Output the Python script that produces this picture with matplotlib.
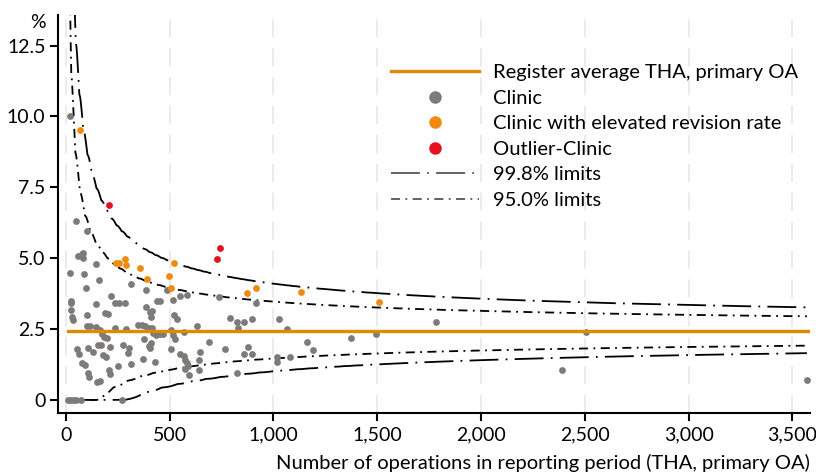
import numpy as np
import matplotlib
matplotlib.use("Agg")
import matplotlib.pyplot as plt
from matplotlib.lines import Line2D
from matplotlib.legend_handler import HandlerLine2D
from matplotlib.ticker import FuncFormatter

plt.rcParams['font.family'] = ['Lato', 'DejaVu Sans']

# Register average revision rate (%)
register_avg = 2.42

# Clinics: number of operations and revision rate (%)
clinic_n = [8, 20, 35, 50, 74, 272,
            18, 48, 100, 58, 76, 82, 82, 146, 19, 85, 159, 313, 387, 95, 485, 215,
            23, 26, 25, 29, 33, 143, 236, 255, 284, 103, 190, 203, 103, 116, 143, 162,
            236, 288, 173, 184, 198, 171, 211, 106, 132, 154, 54, 62, 78, 91, 105, 112,
            149, 162, 178, 192, 251, 207, 211, 275, 302, 297, 315, 370, 431, 378, 400,
            411, 406, 349, 366, 383, 400, 416, 419, 436, 452, 466, 384, 403, 413, 408,
            440, 453, 514, 522, 535, 549, 584, 508, 518, 524, 569, 506, 550, 568, 576,
            584, 575, 590, 593, 632, 646, 643, 640, 689, 736, 765, 792, 824, 830, 856,
            896, 877, 856, 896, 918, 824, 1029, 1063, 1017, 1018, 1081, 1161, 1190,
            1373, 1496, 1782, 2389, 2505, 3570]
clinic_rate = [0, 0, 0, 0, 0, 0,
               10.0, 6.31, 5.97, 5.08, 5.14, 5.2, 5.0, 4.81, 4.48, 4.44, 4.22, 4.1, 3.89, 3.94, 3.88, 3.65,
               3.5, 3.43, 3.16, 2.93, 2.82, 3.37, 3.43, 3.43, 3.41, 2.98, 3.08, 3.02, 2.62, 2.62, 2.56, 2.47,
               2.55, 2.52, 2.34, 2.23, 2.19, 1.94, 1.86, 1.82, 1.68, 1.93, 1.78, 1.63, 1.32, 1.24, 0.96, 0.8,
               0.65, 0.66, 1.57, 1.53, 1.18, 1.06, 0.93, 1.93, 1.83, 1.64, 1.26, 1.44, 1.35, 2.15, 1.89,
               2.0, 1.82, 2.65, 2.65, 2.61, 2.53, 2.55, 2.35, 2.28, 2.32, 2.32, 3.29, 3.09, 3.14, 2.92,
               3.5, 3.5, 3.52, 3.01, 2.85, 3.67, 3.69, 2.46, 2.3, 2.16, 2.4, 1.8, 1.61, 1.56, 1.41,
               1.32, 1.08, 1.2, 0.88, 2.6, 1.68, 1.41, 1.05, 2.03, 3.62, 1.8, 2.88, 2.76, 2.54, 2.76,
               2.86, 1.88, 1.61, 1.61, 3.41, 0.96, 2.86, 2.5, 1.53, 1.35, 1.53, 2.06, 1.76,
               2.2, 2.33, 2.75, 1.05, 2.39, 0.72]

# Clinics with elevated revision rate
elevated_n = [69, 240, 256, 285, 288, 358, 389, 495, 506, 521, 872, 918, 1134, 1509]
elevated_rate = [9.51, 4.84, 4.82, 4.97, 4.77, 4.66, 4.25, 4.38, 3.96, 4.83, 3.79, 3.96, 3.81, 3.45]

# Outlier clinics
outlier_n = [209, 726, 742]
outlier_rate = [6.86, 4.96, 5.36]

x_ticks = [0, 500, 1000, 1500, 2000, 2500, 3000, 3500]
y_ticks = [0, 2.5, 5.0, 7.5, 10.0, 12.5]
y_tick_labels = ["0", "2.5", "5.0", "7.5", "10.0", "12.5"]

GRAY = '#7d7b79'
ORANGE = '#f18a0e'
RED = '#e3141f'
AVG = '#e08a00'
FS = 14.5
TICK_FS = 14


def binom_pmf_iter(n, p):
    q = 1.0 - p
    pmf = q ** n
    r = 0
    while True:
        yield r, pmf
        pmf = pmf * (n - r) / (r + 1) * p / q
        r += 1


def lower_limit(ns, p, tail):
    """Interpolated binomial lower limit (%) from P(X <= r)."""
    out = []
    for n in ns:
        cdf_prev, cdf = 0.0, 0.0
        for r, pmf in binom_pmf_iter(n, p):
            cdf_prev, cdf = cdf, cdf + pmf
            if cdf >= tail:
                break
        alpha = (cdf - tail) / (cdf - cdf_prev)
        out.append(max((r - alpha) / n, 0.0))
    return np.array(out) * 100


def upper_limit(ns, p, tail):
    """Interpolated binomial upper limit (%) from P(X >= r)."""
    out = []
    for n in ns:
        surv = 1.0
        for r, pmf in binom_pmf_iter(n, p):
            nxt = surv - pmf
            if nxt <= tail:
                x = r + (surv - tail) / (surv - nxt)
                break
            surv = nxt
        out.append(x / n)
    return np.array(out) * 100


all_n = clinic_n + elevated_n + outlier_n
ns = np.arange(min(all_n), max(all_n) + 1)
p = register_avg / 100

fig = plt.figure(figsize=(8.16, 4.75), dpi=100)
ax = fig.add_axes([58 / 816, 1 - 412.7 / 475, (810 - 58) / 816, (412.7 - 15) / 475])

ax.set_xlim(-38, 3585)
ax.set_ylim(-0.45, 13.58)

for xt in x_ticks:
    ax.axvline(xt, color='#e9e9e9', lw=1.3, dashes=(10, 6), zorder=0)

ls998 = (0, (16, 4, 1, 4))
ls950 = (0, (5, 3, 1, 3))
ax.plot(ns, upper_limit(ns, p, 0.001), color='black', lw=1.3, linestyle=ls998, zorder=2)
ax.plot(ns, lower_limit(ns, p, 0.001), color='black', lw=1.3, linestyle=ls998, zorder=2)
ax.plot(ns, upper_limit(ns, p, 0.025), color='black', lw=1.3, linestyle=ls950, zorder=2)
ax.plot(ns, lower_limit(ns, p, 0.025), color='black', lw=1.3, linestyle=ls950, zorder=2)

ax.scatter(clinic_n, clinic_rate, s=24, color=GRAY, linewidths=0, zorder=3)
ax.scatter(elevated_n, elevated_rate, s=24, color=ORANGE, linewidths=0, zorder=3)
ax.scatter(outlier_n, outlier_rate, s=24, color=RED, linewidths=0, zorder=3)

ax.plot([min(all_n), max(all_n) + 15], [register_avg, register_avg], color=AVG, lw=2.4, zorder=4)

for s in ('top', 'right'):
    ax.spines[s].set_visible(False)
for s in ('left', 'bottom'):
    ax.spines[s].set_linewidth(1.5)

ax.set_xticks(x_ticks)
ax.xaxis.set_major_formatter(FuncFormatter(lambda v, pos: f"{int(v):,}"))
ax.set_yticks(y_ticks)
ax.set_yticklabels(y_tick_labels)
ax.tick_params(axis='both', length=6, width=1.5, labelsize=TICK_FS, colors='black')
ax.tick_params(axis='y', pad=3)
ax.tick_params(axis='x', pad=4)

fig.text(38 / 816, 1 - 22 / 475, '%', fontsize=TICK_FS, ha='center', va='center')
fig.text(810 / 816, 1 - 463 / 475, 'Number of operations in reporting period (THA, primary OA)',
         fontsize=FS, ha='right', va='center')


class RightMarkerHandler(HandlerLine2D):
    def get_xdata(self, legend, xdescent, ydescent, width, height, fontsize):
        xdata, _ = super().get_xdata(legend, xdescent, ydescent, width, height, fontsize)
        return xdata, np.array([-xdescent + width - 0.4 * fontsize])


handles = [
    Line2D([], [], color=AVG, lw=2.4),
    Line2D([], [], color=GRAY, marker='o', ms=8, lw=0),
    Line2D([], [], color=ORANGE, marker='o', ms=8, lw=0),
    Line2D([], [], color=RED, marker='o', ms=8, lw=0),
    Line2D([], [], color='#555555', lw=1.3, linestyle=ls998),
    Line2D([], [], color='#555555', lw=1.3, linestyle=ls950),
]
labels = ['Register average THA, primary OA', 'Clinic', 'Clinic with elevated revision rate',
          'Outlier-Clinic', '99.8% limits', '95.0% limits']
hm = {h: RightMarkerHandler(numpoints=1) for h in handles[1:4]}
fig.legend(handles, labels, loc='upper left', bbox_to_anchor=(391 / 816, 1 - 64 / 475),
           frameon=False, fontsize=FS, handlelength=88 / (FS * 100 / 72), handletextpad=0.7,
           labelspacing=0.42, borderpad=0, borderaxespad=0, handler_map=hm)

fig.savefig('out.png', dpi=100)
